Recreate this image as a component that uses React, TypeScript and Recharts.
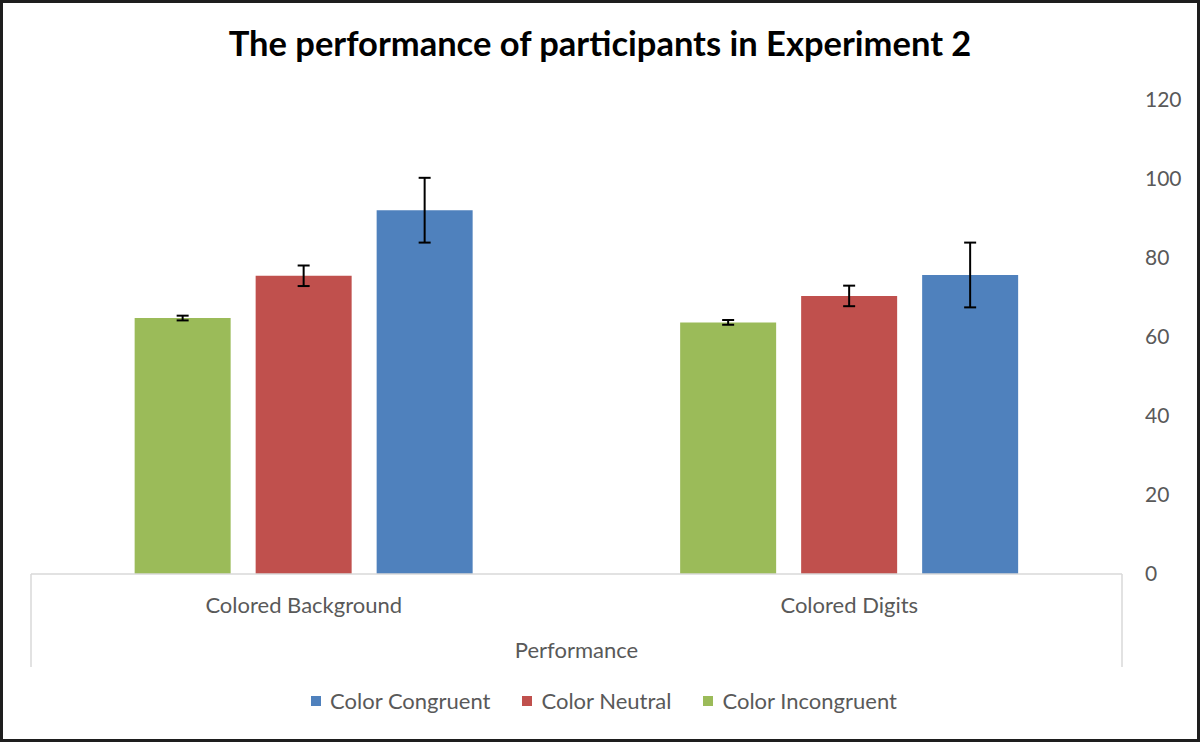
import React from 'react';
import { BarChart, Bar, XAxis, YAxis, ErrorBar } from 'recharts';

const categories = ['Colored Background', 'Colored Digits'];
const incongruent = [64.8, 63.7];
const incongruentErr = [0.6, 0.6];
const neutral = [75.5, 70.4];
const neutralErr = [2.6, 2.6];
const congruent = [92.1, 75.7];
const congruentErr = [8.2, 8.2];
const yTicks = [0, 20, 40, 60, 80, 100, 120];

const series = [
  { key: 'congruent', name: 'Color Congruent', color: '#4F81BD' },
  { key: 'neutral', name: 'Color Neutral', color: '#C0504D' },
  { key: 'incongruent', name: 'Color Incongruent', color: '#9BBB59' },
];

const data = categories.map((name, i) => ({
  name,
  incongruent: incongruent[i],
  incongruentErr: incongruentErr[i],
  neutral: neutral[i],
  neutralErr: neutralErr[i],
  congruent: congruent[i],
  congruentErr: congruentErr[i],
}));

const FONT = 'Lato, "Open Sans", sans-serif';
const TEXT = '#595959';
const AXIS_H = 93;

const CategoryTick = (props: any) => {
  const { x, y, payload, index, visibleTicksCount } = props;
  const half = payload.offset || 0;
  return (
    <g>
      {index === 0 && (
        <line x1={x - half} y1={y} x2={x - half} y2={y + AXIS_H} stroke="#D9D9D9" strokeWidth={1.5} />
      )}
      {index === visibleTicksCount - 1 && (
        <line x1={x + half} y1={y} x2={x + half} y2={y + AXIS_H} stroke="#D9D9D9" strokeWidth={1.5} />
      )}
      <text x={x} y={y + 39} textAnchor="middle" fill={TEXT} fontSize={22} fontFamily={FONT}>
        {payload.value}
      </text>
    </g>
  );
};

const ValueTick = (props: any) => {
  const { x, y, payload } = props;
  return (
    <text x={x + 15} y={y + 7} textAnchor="start" fill={TEXT} fontSize={21} fontFamily={FONT}>
      {payload.value}
    </text>
  );
};

export default function App() {
  return (
    <div
      style={{
        position: 'relative',
        width: 1200,
        height: 742,
        boxSizing: 'border-box',
        border: '3px solid #1E1E1E',
        background: '#fff',
        fontFamily: FONT,
      }}
    >
      <style>{'body{margin:0}'}</style>
      <div
        style={{
          position: 'absolute',
          top: 19,
          left: 0,
          width: 1194,
          textAlign: 'center',
          fontSize: 34.5,
          fontWeight: 700,
          color: '#000',
        }}
      >
        The performance of participants in Experiment 2
      </div>
      <BarChart
        width={1194}
        height={736}
        data={data}
        margin={{ top: 97, right: 0, bottom: 72, left: 28 }}
        barCategoryGap="19%"
        barGap={25}
      >
        <XAxis
          dataKey="name"
          height={AXIS_H}
          axisLine={{ stroke: '#D9D9D9', strokeWidth: 1.5 }}
          tickLine={false}
          tickSize={0}
          tickMargin={0}
          tick={<CategoryTick />}
          interval={0}
          label={{
            value: 'Performance',
            position: 'insideBottom',
            offset: 9,
            fill: TEXT,
            fontSize: 22,
            fontFamily: FONT,
          }}
        />
        <YAxis
          orientation="right"
          width={75}
          domain={[0, 120]}
          ticks={yTicks}
          axisLine={false}
          tickLine={false}
          tick={<ValueTick />}
        />
        <Bar dataKey="incongruent" name="Color Incongruent" fill="#9BBB59" isAnimationActive={false}>
          <ErrorBar dataKey="incongruentErr" width={6} stroke="#000" strokeWidth={2} />
        </Bar>
        <Bar dataKey="neutral" name="Color Neutral" fill="#C0504D" isAnimationActive={false}>
          <ErrorBar dataKey="neutralErr" width={6} stroke="#000" strokeWidth={2} />
        </Bar>
        <Bar dataKey="congruent" name="Color Congruent" fill="#4F81BD" isAnimationActive={false}>
          <ErrorBar dataKey="congruentErr" width={6} stroke="#000" strokeWidth={2} />
        </Bar>
      </BarChart>
      <div
        style={{
          position: 'absolute',
          top: 684,
          left: 4,
          width: 1194,
          display: 'flex',
          justifyContent: 'center',
          gap: 32,
          fontSize: 22,
          color: TEXT,
        }}
      >
        {series.map((s) => (
          <div key={s.key} style={{ display: 'flex', alignItems: 'center' }}>
            <span style={{ width: 10, height: 10, background: s.color, marginRight: 9, display: 'inline-block' }} />
            <span>{s.name}</span>
          </div>
        ))}
      </div>
    </div>
  );
}
